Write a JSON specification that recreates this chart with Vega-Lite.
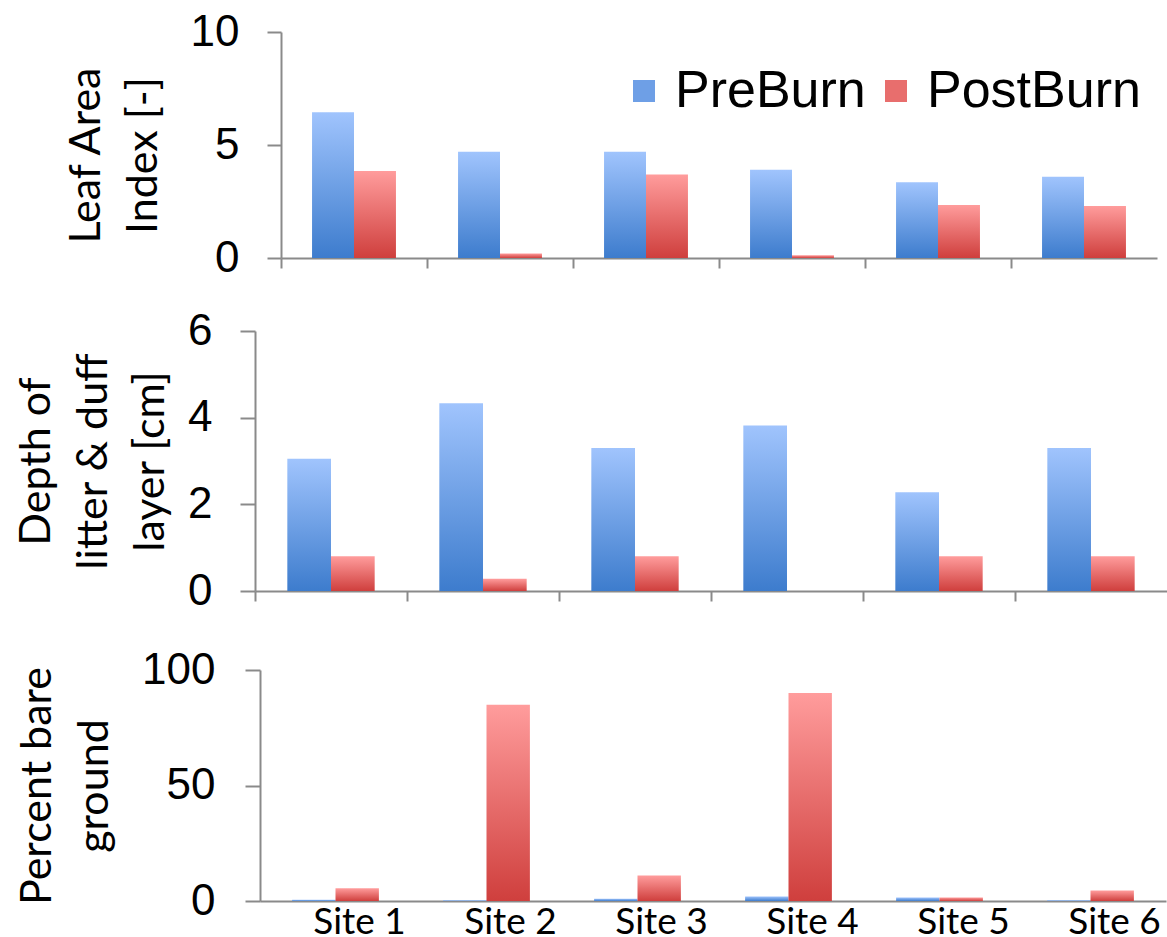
{
  "$schema": "https://vega.github.io/schema/vega-lite/v6.json",
  "background": "white",
  "padding": {"left": 15, "top": 10, "right": 0, "bottom": 0},
  "data": {"values": [
    {"measure": "LAI", "Site": "Site 1", "Period": "PreBurn", "value": 6.45},
    {"measure": "LAI", "Site": "Site 1", "Period": "PostBurn", "value": 3.85},
    {"measure": "LAI", "Site": "Site 2", "Period": "PreBurn", "value": 4.7},
    {"measure": "LAI", "Site": "Site 2", "Period": "PostBurn", "value": 0.2},
    {"measure": "LAI", "Site": "Site 3", "Period": "PreBurn", "value": 4.7},
    {"measure": "LAI", "Site": "Site 3", "Period": "PostBurn", "value": 3.7},
    {"measure": "LAI", "Site": "Site 4", "Period": "PreBurn", "value": 3.9},
    {"measure": "LAI", "Site": "Site 4", "Period": "PostBurn", "value": 0.12},
    {"measure": "LAI", "Site": "Site 5", "Period": "PreBurn", "value": 3.35},
    {"measure": "LAI", "Site": "Site 5", "Period": "PostBurn", "value": 2.35},
    {"measure": "LAI", "Site": "Site 6", "Period": "PreBurn", "value": 3.6},
    {"measure": "LAI", "Site": "Site 6", "Period": "PostBurn", "value": 2.3},
    {"measure": "Depth", "Site": "Site 1", "Period": "PreBurn", "value": 3.05},
    {"measure": "Depth", "Site": "Site 1", "Period": "PostBurn", "value": 0.8},
    {"measure": "Depth", "Site": "Site 2", "Period": "PreBurn", "value": 4.33},
    {"measure": "Depth", "Site": "Site 2", "Period": "PostBurn", "value": 0.28},
    {"measure": "Depth", "Site": "Site 3", "Period": "PreBurn", "value": 3.3},
    {"measure": "Depth", "Site": "Site 3", "Period": "PostBurn", "value": 0.8},
    {"measure": "Depth", "Site": "Site 4", "Period": "PreBurn", "value": 3.82},
    {"measure": "Depth", "Site": "Site 4", "Period": "PostBurn", "value": 0},
    {"measure": "Depth", "Site": "Site 5", "Period": "PreBurn", "value": 2.28},
    {"measure": "Depth", "Site": "Site 5", "Period": "PostBurn", "value": 0.8},
    {"measure": "Depth", "Site": "Site 6", "Period": "PreBurn", "value": 3.3},
    {"measure": "Depth", "Site": "Site 6", "Period": "PostBurn", "value": 0.8},
    {"measure": "Bare", "Site": "Site 1", "Period": "PreBurn", "value": 0.5},
    {"measure": "Bare", "Site": "Site 1", "Period": "PostBurn", "value": 5.5},
    {"measure": "Bare", "Site": "Site 2", "Period": "PreBurn", "value": 0.3},
    {"measure": "Bare", "Site": "Site 2", "Period": "PostBurn", "value": 85},
    {"measure": "Bare", "Site": "Site 3", "Period": "PreBurn", "value": 1},
    {"measure": "Bare", "Site": "Site 3", "Period": "PostBurn", "value": 11},
    {"measure": "Bare", "Site": "Site 4", "Period": "PreBurn", "value": 2},
    {"measure": "Bare", "Site": "Site 4", "Period": "PostBurn", "value": 90},
    {"measure": "Bare", "Site": "Site 5", "Period": "PreBurn", "value": 1.5},
    {"measure": "Bare", "Site": "Site 5", "Period": "PostBurn", "value": 1.5},
    {"measure": "Bare", "Site": "Site 6", "Period": "PreBurn", "value": 0.3},
    {"measure": "Bare", "Site": "Site 6", "Period": "PostBurn", "value": 4.5}
  ]},
  "columns": 1,
  "spacing": 29,
  "concat": [
    {
      "width": 902,
      "height": 226,
      "transform": [{"filter": "datum.measure === 'LAI'"}],
      "encoding": {
        "x": {"field": "Site", "type": "nominal", "sort": null,
              "scale": {"range": [26, 902], "paddingInner": 0, "paddingOuter": 0},
              "axis": {"title": null, "labels": false, "tickSize": 10, "bandPosition": 0}},
        "xOffset": {"field": "Period", "type": "nominal", "sort": ["PreBurn", "PostBurn"],
                    "scale": {"paddingInner": 0, "paddingOuter": 0.74}},
        "y": {"field": "value", "type": "quantitative",
              "scale": {"domain": [0, 10], "nice": false},
              "axis": {"values": [0, 5, 10], "tickSize": 14, "labelFontSize": 44, "labelPadding": 28,
                       "offset": -26, "title": ["Leaf Area", "Index [-]"], "titleFontSize": 43,
                       "titleLineHeight": 57, "titlePadding": 25, "titleY": 123}}
      },
      "layer": [
        {
          "mark": {"type": "bar"},
          "encoding": {
            "fill": {"condition": {"test": "datum.Period === 'PreBurn'",
                       "value": {"gradient": "linear", "x1": 0, "y1": 0, "x2": 0, "y2": 1, "stops": [{"offset": 0, "color": "#A0C4FD"}, {"offset": 1, "color": "#3D7CCD"}]}},
                     "value": {"gradient": "linear", "x1": 0, "y1": 0, "x2": 0, "y2": 1, "stops": [{"offset": 0, "color": "#FF9C9C"}, {"offset": 1, "color": "#CF3F3D"}]}}
          }
        },
        {
          "mark": {"type": "bar", "opacity": 0},
          "encoding": {
            "color": {"field": "Period", "type": "nominal",
                      "scale": {"domain": ["PreBurn", "PostBurn"], "range": ["#6E9FE6", "#E86E6D"]},
                      "legend": {"title": null, "orient": "none", "legendX": 363, "legendY": 33, "direction": "horizontal",
                                 "symbolType": "square", "symbolSize": 484, "symbolStrokeWidth": 0, "symbolOpacity": 1,
                                 "labelFont": "Liberation Sans", "labelFontSize": 52, "labelColor": "black",
                                 "labelOffset": 5, "columnPadding": 4, "labelLimit": 400, "padding": 0}}
          }
        }
      ]
    },
    {
      "width": 912,
      "height": 260,
      "transform": [{"filter": "datum.measure === 'Depth'"}],
      "mark": {"type": "bar"},
      "encoding": {
        "x": {"field": "Site", "type": "nominal", "sort": null,
              "scale": {"paddingInner": 0, "paddingOuter": 0},
              "axis": {"title": null, "labels": false, "tickSize": 10, "bandPosition": 0}},
        "xOffset": {"field": "Period", "type": "nominal", "sort": ["PreBurn", "PostBurn"],
                    "scale": {"paddingInner": 0, "paddingOuter": 0.74}},
        "y": {"field": "value", "type": "quantitative",
              "scale": {"domain": [0, 6], "nice": false},
              "axis": {"values": [0, 2, 4, 6], "tickSize": 15, "labelFontSize": 44, "labelPadding": 28,
                       "title": ["Depth of", "litter & duff", "layer [cm]"], "titleFontSize": 43,
                       "titleLineHeight": 57, "titlePadding": 15}},
        "fill": {"condition": {"test": "datum.Period === 'PreBurn'",
                   "value": {"gradient": "linear", "x1": 0, "y1": 0, "x2": 0, "y2": 1, "stops": [{"offset": 0, "color": "#A0C4FD"}, {"offset": 1, "color": "#3D7CCD"}]}},
                 "value": {"gradient": "linear", "x1": 0, "y1": 0, "x2": 0, "y2": 1, "stops": [{"offset": 0, "color": "#FF9C9C"}, {"offset": 1, "color": "#CF3F3D"}]}}
      }
    },
    {
      "width": 911,
      "height": 231,
      "title": {"text": " ", "fontSize": 2, "offset": 4},
      "transform": [{"filter": "datum.measure === 'Bare'"}],
      "mark": {"type": "bar"},
      "encoding": {
        "x": {"field": "Site", "type": "nominal", "sort": null,
              "scale": {"range": [5, 911], "paddingInner": 0, "paddingOuter": 0},
              "axis": {"title": null, "ticks": false, "labelFont": "Lato", "labelFontSize": 37,
                       "labelOffset": 24, "labelPadding": 3, "labelAngle": 0}},
        "xOffset": {"field": "Period", "type": "nominal", "sort": ["PreBurn", "PostBurn"],
                    "scale": {"paddingInner": 0, "paddingOuter": 0.74}},
        "y": {"field": "value", "type": "quantitative",
              "scale": {"domain": [0, 100], "nice": false},
              "axis": {"values": [0, 50, 100], "tickSize": 15, "labelFontSize": 44, "labelPadding": 30,
                       "offset": -5, "title": ["Percent bare", "ground"], "titleFontSize": 43,
                       "titleLineHeight": 57, "titlePadding": 25}},
        "fill": {"condition": {"test": "datum.Period === 'PreBurn'",
                   "value": {"gradient": "linear", "x1": 0, "y1": 0, "x2": 0, "y2": 1, "stops": [{"offset": 0, "color": "#A0C4FD"}, {"offset": 1, "color": "#3D7CCD"}]}},
                 "value": {"gradient": "linear", "x1": 0, "y1": 0, "x2": 0, "y2": 1, "stops": [{"offset": 0, "color": "#FF9C9C"}, {"offset": 1, "color": "#CF3F3D"}]}}
      }
    }
  ],
  "resolve": {
    "scale": {"x": "independent", "y": "independent", "xOffset": "independent", "color": "independent"},
    "legend": {"color": "independent"}
  },
  "config": {
    "view": {"stroke": null},
    "axis": {"domainColor": "#8a8a8a", "tickColor": "#8a8a8a", "domainWidth": 2, "tickWidth": 2,
             "labelColor": "black", "titleColor": "black", "grid": false,
             "labelFont": "Liberation Sans", "titleFont": "Lato", "titleFontWeight": "normal"},
    "bar": {"stroke": null}
  }
}
